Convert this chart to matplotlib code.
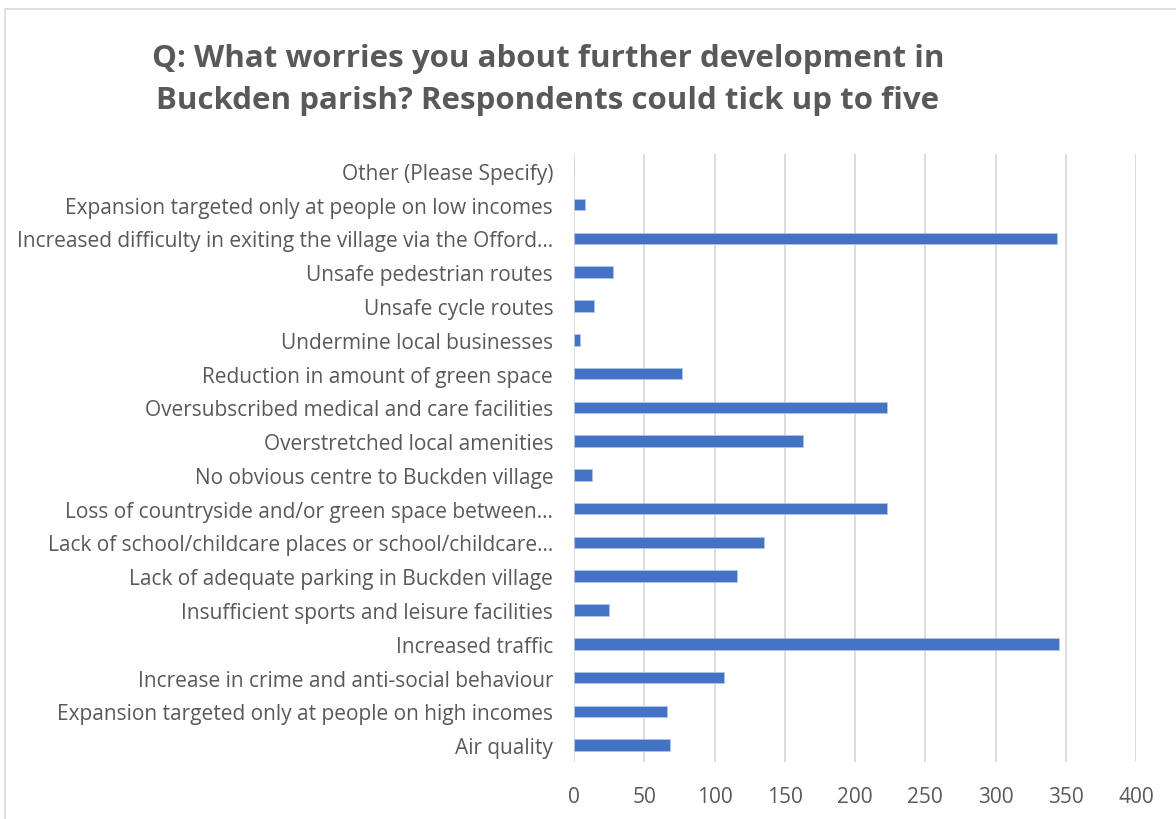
import numpy as np
import matplotlib.pyplot as plt
from matplotlib.patches import Rectangle

categorias = [
    "Air quality",
    "Expansion targeted only at people on high incomes",
    "Increase in crime and anti-social behaviour",
    "Increased traffic",
    "Insufficient sports and leisure facilities",
    "Lack of adequate parking in Buckden village",
    "Lack of school/childcare places or school/childcare\u2026",
    "Loss of countryside and/or green space between\u2026",
    "No obvious centre to Buckden village",
    "Overstretched local amenities",
    "Oversubscribed medical and care facilities",
    "Reduction in amount of green space",
    "Undermine local businesses",
    "Unsafe cycle routes",
    "Unsafe pedestrian routes",
    "Increased difficulty in exiting the village via the Offord\u2026",
    "Expansion targeted only at people on low incomes",
    "Other (Please Specify)",
]
valores = [68, 66, 107, 345, 25, 116, 135, 223, 13, 163, 223, 77, 4, 14, 28, 344, 8, 0]
ticks_x = [0, 50, 100, 150, 200, 250, 300, 350, 400]

titulo = "Q: What worries you about further development in\nBuckden parish? Respondents could tick up to five"

plt.rcParams['font.family'] = ['Open Sans', 'DejaVu Sans']
gris = '#595959'

fig = plt.figure(figsize=(11.76, 8.2), dpi=100)
# marco del grafico
fig.patches.append(Rectangle((5/1176, -0.1), 1.2, (820-10)/820 + 0.1, transform=fig.transFigure,
                             fill=False, edgecolor='#d9d9d9', linewidth=1.2))

W, H = 1176.0, 820.0
ax = fig.add_axes([574/W, 1-763/H, (1136-574)/W, (763-155)/H])

y = np.arange(len(categorias))
ax.barh(y, valores, height=0.34, color='#4472C4', edgecolor='#b4c7e7', linewidth=0.5, zorder=3)
ax.set_ylim(-0.5, len(categorias)-0.5)
ax.set_xlim(0, 400)
ax.set_xticks(ticks_x)
ax.set_yticks(y)
ax.set_yticklabels(categorias, fontsize=15, color=gris)
ax.tick_params(axis='y', length=0, pad=15)
ax.tick_params(axis='x', length=0, pad=17, labelsize=15, labelcolor=gris)
ax.grid(axis='x', color='#d9d9d9', linewidth=1.3, zorder=0)
for s in ax.spines.values():
    s.set_visible(False)

fig.text(548/W, 1-80/H, titulo, ha='center', va='center', fontsize=22.5, fontweight='bold',
         color=gris, linespacing=1.5)

fig.savefig('out.png', dpi=100)
